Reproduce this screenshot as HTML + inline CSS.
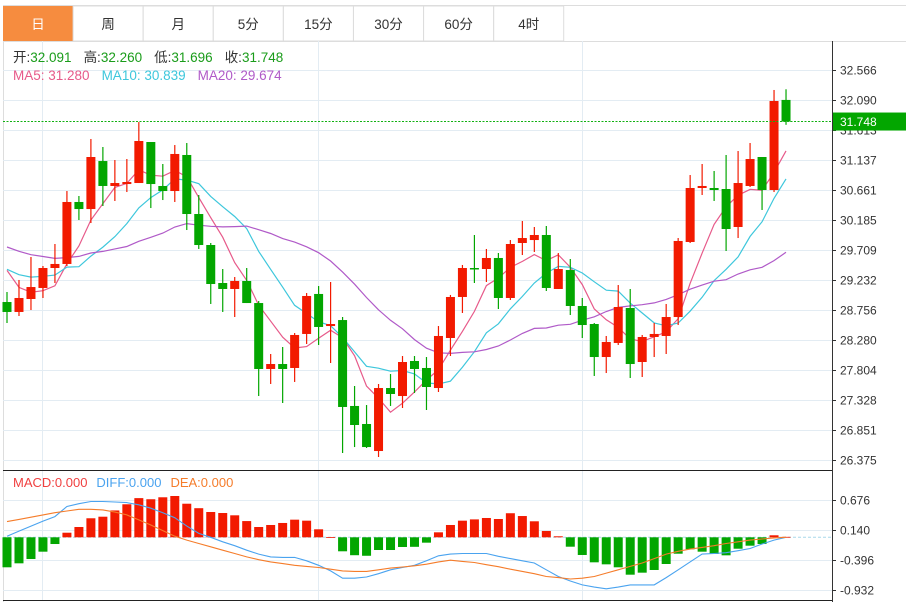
<!DOCTYPE html>
<html><head><meta charset="utf-8">
<style>
body{margin:0;background:#fff;width:906px;height:602px;overflow:hidden;font-family:"Liberation Sans","Noto Sans CJK SC",sans-serif;}
svg{display:block}
text{font-family:"Liberation Sans","Noto Sans CJK SC",sans-serif;}
</style></head>
<body>
<svg id="chart" width="906" height="602" viewBox="0 0 906 602"></svg>
<script>
const opens=[28.883,28.725,28.931,29.106,29.423,29.487,30.471,30.359,31.121,30.725,30.756,30.772,31.423,30.725,30.645,31.217,30.280,29.788,29.185,29.090,29.217,28.867,27.820,27.899,27.836,28.376,29.011,28.502,28.597,27.233,26.947,26.518,27.518,27.391,27.947,27.836,27.518,28.312,28.963,29.423,29.407,29.582,28.947,29.820,29.867,29.947,29.090,29.391,28.820,28.534,28.010,28.233,28.788,27.931,28.328,28.344,28.645,29.836,30.693,30.693,30.677,30.074,30.725,31.185,30.661,32.091];
const highs=[29.042,29.233,29.598,29.455,29.804,30.645,30.566,31.471,31.344,31.137,31.153,31.740,31.423,31.074,31.375,31.407,30.582,29.820,29.407,29.280,29.423,28.899,28.058,28.169,28.391,29.026,29.137,29.201,28.645,27.550,27.248,27.582,27.740,28.026,28.026,28.010,28.502,28.995,29.471,29.947,29.725,29.661,29.867,30.169,30.074,30.090,29.661,29.566,28.947,28.550,28.344,29.153,29.090,28.360,28.550,28.852,29.899,30.899,31.074,30.963,31.217,31.280,31.407,31.185,32.249,32.260];
const lows=[28.550,28.661,28.756,28.947,29.185,29.455,30.185,30.137,30.407,30.487,30.629,30.772,30.375,30.502,30.471,30.026,29.725,28.852,28.725,28.645,28.867,27.391,27.582,27.280,27.614,28.217,28.201,27.915,26.487,26.581,26.566,26.423,27.233,27.201,27.439,27.169,27.455,28.026,28.709,29.185,29.201,28.772,28.915,29.629,29.677,29.058,29.090,28.677,28.312,27.709,27.756,28.201,27.677,27.693,28.010,28.058,28.518,29.820,30.582,30.487,29.693,29.899,30.709,30.344,30.629,31.696];
const closes=[28.725,28.947,29.121,29.423,29.487,30.471,30.359,31.185,30.725,30.772,30.788,31.439,30.756,30.645,31.233,30.280,29.788,29.169,29.090,29.217,28.867,27.820,27.899,27.820,28.360,28.979,28.487,28.534,27.217,26.931,26.581,27.518,27.423,27.931,27.820,27.534,28.344,28.963,29.423,29.407,29.582,28.947,29.804,29.899,29.947,29.106,29.407,28.820,28.518,28.010,28.249,28.804,27.899,28.328,28.376,28.645,29.852,30.693,30.725,30.661,30.042,30.772,31.153,30.661,32.074,31.748];
const priorCloses=[30.3,30.2,30.0,30.1,30.2,30.0,30.1,30.2,30.0,30.0,29.8,29.5,29.3,29.3,29.2,30.3,29.5,29.3,29.1];
const macdHist=[-0.536,-0.465,-0.388,-0.257,-0.12,0.082,0.184,0.34,0.368,0.48,0.59,0.70,0.68,0.715,0.738,0.60,0.52,0.452,0.434,0.393,0.29,0.184,0.22,0.256,0.315,0.297,0.143,0.005,-0.25,-0.32,-0.33,-0.227,-0.227,-0.173,-0.17,-0.096,0.089,0.22,0.297,0.32,0.345,0.327,0.43,0.38,0.286,0.113,0.018,-0.168,-0.316,-0.447,-0.483,-0.536,-0.668,-0.632,-0.584,-0.477,-0.293,-0.214,-0.257,-0.298,-0.322,-0.204,-0.15,-0.12,0.036,0.008];
const diffVals=[0.02,0.11,0.2,0.29,0.37,0.55,0.6,0.64,0.64,0.63,0.62,0.58,0.52,0.44,0.35,0.2,0.07,0.0,-0.08,-0.15,-0.23,-0.3,-0.35,-0.36,-0.36,-0.42,-0.5,-0.6,-0.73,-0.73,-0.71,-0.65,-0.58,-0.54,-0.5,-0.42,-0.33,-0.30,-0.29,-0.29,-0.29,-0.34,-0.38,-0.42,-0.46,-0.58,-0.70,-0.78,-0.85,-0.89,-0.92,-0.89,-0.85,-0.85,-0.85,-0.72,-0.58,-0.44,-0.30,-0.29,-0.275,-0.24,-0.2,-0.12,-0.05,0.0];
const deaVals=[0.28,0.32,0.36,0.40,0.44,0.47,0.50,0.50,0.49,0.45,0.40,0.31,0.22,0.12,0.02,-0.05,-0.11,-0.17,-0.23,-0.29,-0.35,-0.40,-0.44,-0.47,-0.5,-0.52,-0.54,-0.57,-0.60,-0.61,-0.61,-0.58,-0.55,-0.53,-0.51,-0.48,-0.44,-0.41,-0.43,-0.45,-0.49,-0.525,-0.57,-0.61,-0.65,-0.70,-0.72,-0.745,-0.73,-0.70,-0.64,-0.58,-0.52,-0.46,-0.38,-0.30,-0.25,-0.21,-0.18,-0.15,-0.11,-0.08,-0.05,-0.03,-0.01,0.0];
const priceTicks=["32.566","32.090","31.613","31.137","30.661","30.185","29.709","29.232","28.756","28.280","27.804","27.328","26.851","26.375"];
const macdTicks=["0.676","0.140","-0.396","-0.932"];
const tabs=["日","周","月","5分","15分","30分","60分","4时"];

const NS="http://www.w3.org/2000/svg";
const svg=document.getElementById('chart');
function mk(tag,attrs,parent){const e=document.createElementNS(NS,tag);for(const k in attrs)e.setAttribute(k,attrs[k]);(parent||svg).appendChild(e);return e;}
const UP="#f21a00",DN="#03a600";
const xAt=i=>7+i*11.985;
const yP=p=>70+(32.566-p)/0.4762*30;
const yM=v=>537.3-v/0.536*30;

// tabs
mk('line',{x1:3,y1:5.5,x2:906,y2:5.5,stroke:'#ddd'});
mk('line',{x1:3,y1:41.5,x2:906,y2:41.5,stroke:'#ddd'});
tabs.forEach((t,i)=>{
  const x=3+i*70.1;
  const g=mk('g',{});
  
  
  mk('rect',{x:x,y:6,width:70,height:35,fill:i===0?'#f68c3f':'#fff',stroke:i===0?'none':'#ddd'},g);
  const tx=mk('text',{x:x+35,y:29,'text-anchor':'middle','font-size':13.5,fill:i===0?'#fff':'#333'},g);
  tx.textContent=t;
});

// grid
mk('line',{x1:3.5,y1:41,x2:3.5,y2:602,stroke:'#ddd'});
[42,318,582].forEach(x=>mk('line',{x1:x+0.5,y1:41,x2:x+0.5,y2:600,stroke:'#e3ecf3'}));
priceTicks.forEach((t,k)=>{
  const y=70+k*30;
  mk('line',{x1:3,y1:y+0.5,x2:832,y2:y+0.5,stroke:'#e3ecf3'});
  mk('line',{x1:832,y1:y+0.5,x2:836,y2:y+0.5,stroke:'#333'});
  const e=mk('text',{x:840,y:y+4.5,'font-size':12,fill:'#333'});
  
  
  e.textContent=t;
});
mk('line',{x1:832.5,y1:41,x2:832.5,y2:602,stroke:'#333'});

// MA lines
const all=priorCloses.concat(closes);const off=priorCloses.length;
function ma(n){return closes.map((c,i)=>{let s=0,j=i+off,cnt=0;for(let k=Math.max(0,j-n+1);k<=j;k++){s+=all[k];cnt++;}return s/cnt;});}
[[5,'#e75a8a','ma5-line'],[10,'#3ec7dc','ma10-line'],[20,'#b05ac8','ma20-line']].forEach(([n,c,name])=>{
  const v=ma(n);
  const p=mk('polyline',{points:v.map((m,i)=>xAt(i).toFixed(1)+','+yP(m).toFixed(1)).join(' '),fill:'none',stroke:c,'stroke-width':1.2});
  
  
});

// candles
for(let i=0;i<opens.length;i++){
  const up=closes[i]>=opens[i];const col=up?UP:DN;const x=xAt(i);
  const g=mk('g',{});
  
  
  mk('line',{x1:x,y1:yP(highs[i]),x2:x,y2:yP(lows[i]),stroke:col,'stroke-width':1.2},g);
  const t=Math.min(yP(opens[i]),yP(closes[i])),b=Math.max(yP(opens[i]),yP(closes[i]));
  mk('rect',{x:x-4.5,y:t,width:9,height:Math.max(1.5,b-t),fill:col},g);
}

// last price line + tag
const last=closes[closes.length-1];
mk('line',{x1:3,y1:yP(last),x2:832,y2:yP(last),stroke:'#11b011','stroke-dasharray':'2,1.5'});
const tag=mk('g',{});


mk('rect',{x:833,y:yP(last)-9,width:73,height:18,fill:'#03a600'},tag);
const tt=mk('text',{x:840,y:yP(last)+4.5,'font-size':12,fill:'#fff'},tag);tt.textContent='31.748';

// legends
function legend(y,parts,name,fs){const e=mk('text',{x:13,y:y,'font-size':fs});
  parts.forEach(([s,c,dx])=>{const ts=mk('tspan',{fill:c},e);if(dx)ts.setAttribute('dx',dx);ts.textContent=s;});}
legend(62,[['开:','#333'],['32.091','#1a9c1a'],['高:','#333',12],['32.260','#1a9c1a'],['低:','#333',12],['31.696','#1a9c1a'],['收:','#333',12],['31.748','#1a9c1a']],'ohlc-legend',13.5);
legend(80,[['MA5: 31.280','#e75a8a'],['MA10: 30.839','#3ec7dc',12],['MA20: 29.674','#b05ac8',12]],'ma-legend',13.5);

// MACD panel
mk('line',{x1:3,y1:470.5,x2:832,y2:470.5,stroke:'#222'});
mk('line',{x1:3,y1:600.5,x2:832,y2:600.5,stroke:'#222'});
macdTicks.forEach((t,k)=>{const y=500+k*30;
  mk('line',{x1:3,y1:y+0.5,x2:832,y2:y+0.5,stroke:'#e3ecf3'});
  mk('line',{x1:832,y1:y+0.5,x2:836,y2:y+0.5,stroke:'#333'});
  const e=mk('text',{x:840,y:y+4.5,'font-size':12,fill:'#333'});
  
  
  e.textContent=t;});
mk('line',{x1:3,y1:yM(0),x2:832,y2:yM(0),stroke:'#a8d8ea','stroke-dasharray':'3,2'});
macdHist.forEach((v,i)=>{const x=xAt(i);const y0=yM(0),y1=yM(v);
  const r=mk('rect',{x:x-4.5,y:Math.min(y0,y1),width:9,height:Math.max(0.8,Math.abs(y1-y0)),fill:v>=0?UP:DN});
  
  });
[[diffVals,'#4aa3ef','diff-line'],[deaVals,'#f57c2a','dea-line']].forEach(([arr,c,name])=>{
  const p=mk('polyline',{points:arr.map((v,i)=>xAt(i).toFixed(1)+','+yM(v).toFixed(1)).join(' '),fill:'none',stroke:c,'stroke-width':1.1});
  
  });
legend(487,[['MACD:0.000','#f04040'],['DIFF:0.000','#4aa3ef',9],['DEA:0.000','#f57c2a',9]],'macd-legend',13);
</script>
</body></html>
